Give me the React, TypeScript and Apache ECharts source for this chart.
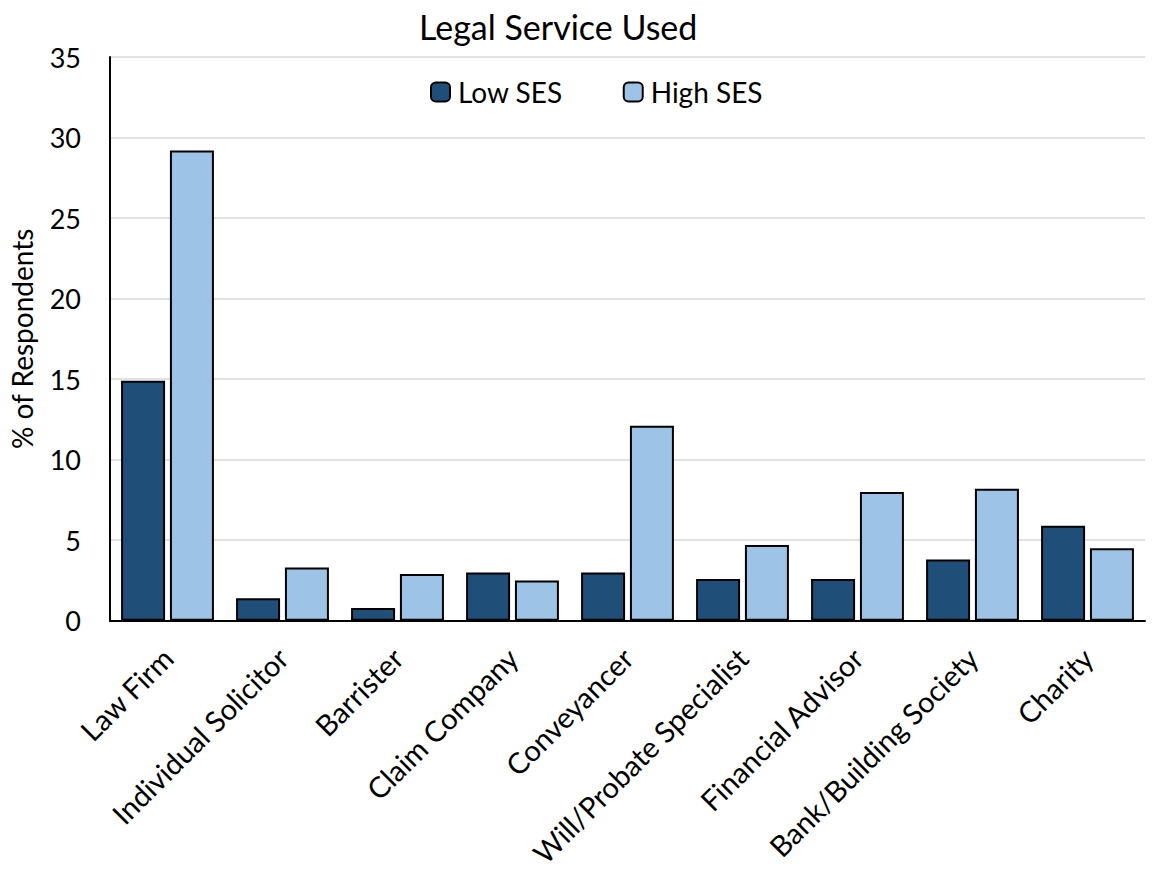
import React, { useEffect, useRef } from "react";
import * as echarts from "echarts";

const categories = [
  "Law Firm",
  "Individual Solicitor",
  "Barrister",
  "Claim Company",
  "Conveyancer",
  "Will/Probate Specialist",
  "Financial Advisor",
  "Bank/Building Society",
  "Charity",
];
const lowSES = [14.9, 1.4, 0.8, 3.0, 3.0, 2.6, 2.6, 3.8, 5.9];
const highSES = [29.2, 3.3, 2.9, 2.5, 12.1, 4.7, 8.0, 8.2, 4.5];

const FONT = "Lato, 'Open Sans', sans-serif";

export default function App() {
  const ref = useRef<HTMLDivElement>(null);
  useEffect(() => {
    if (!ref.current) return;
    const chart = echarts.init(ref.current, undefined, { renderer: "svg" });
    chart.setOption({
      animation: false,
      backgroundColor: "#ffffff",
      textStyle: { fontFamily: FONT, color: "#000" },
      title: {
        text: "Legal Service Used",
        left: 414,
        top: 4,
        textStyle: { fontFamily: FONT, fontSize: 34, fontWeight: "normal", color: "#000" },
      },
      legend: {
        left: 425,
        top: 73,
        itemWidth: 19,
        itemHeight: 19,
        itemGap: 60,
        textStyle: { fontFamily: FONT, fontSize: 28, color: "#000", padding: [0, 0, 0, 3] },
        data: ["Low SES", "High SES"],
      },
      grid: { left: 110, right: 11, top: 57, bottom: 249, containLabel: false },
      xAxis: {
        type: "category",
        data: categories,
        axisLine: { show: true, lineStyle: { color: "#000", width: 2 } },
        axisTick: { show: false },
        axisLabel: {
          rotate: 45,
          interval: 0,
          fontFamily: FONT,
          fontSize: 29,
          color: "#000",
          margin: 32,
        },
      },
      yAxis: {
        type: "value",
        min: 0,
        max: 35,
        interval: 5,
        name: "% of Respondents",
        nameLocation: "middle",
        nameGap: 74,
        nameTextStyle: { fontFamily: FONT, fontSize: 28, color: "#000" },
        axisLine: { show: true, lineStyle: { color: "#000", width: 2 } },
        axisTick: { show: false },
        axisLabel: { fontFamily: FONT, fontSize: 27, color: "#000", margin: 29 },
        splitLine: { show: true, lineStyle: { color: "#D9D9D9", width: 1.5 } },
      },
      series: [
        {
          name: "Low SES",
          type: "bar",
          data: lowSES,
          barWidth: 44,
          barGap: "11%",
          itemStyle: { color: "#1F4E79", borderColor: "#000", borderWidth: 2 },
        },
        {
          name: "High SES",
          type: "bar",
          data: highSES,
          barWidth: 44,
          barGap: "11%",
          itemStyle: { color: "#9DC3E6", borderColor: "#000", borderWidth: 2 },
        },
      ],
    });
    return () => chart.dispose();
  }, []);
  return (
    <div
      ref={ref}
      style={{ position: "fixed", left: 0, top: 0, width: 1156, height: 870 }}
    />
  );
}
